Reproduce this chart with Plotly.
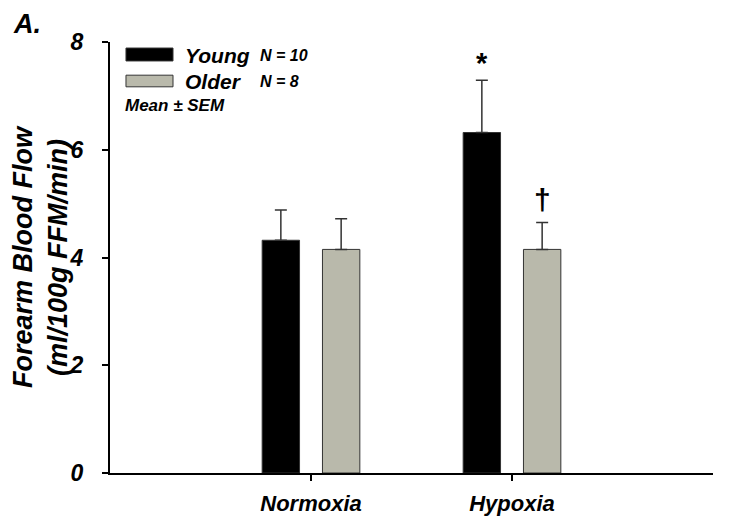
import plotly.graph_objects as go

categories = ["Normoxia", "Hypoxia"]
young_mean = [4.32, 6.32]
young_sem = [0.56, 0.97]
older_mean = [4.15, 4.15]
older_sem = [0.57, 0.50]
y_ticks = [0, 2, 4, 6, 8]
young_n = 10
older_n = 8

FONT = "Liberation Sans, Arial, sans-serif"
GRAY = "#b9b9ab"
OFFSET = 0.15  # half distance between grouped bar centres (category units)

fig = go.Figure()
fig.add_trace(go.Bar(
    name="Young", x=categories, y=young_mean,
    marker=dict(color="#000000", line=dict(color="#333333", width=1)),
    error_y=dict(type="data", array=young_sem, arrayminus=[0] * len(young_sem),
                 symmetric=False, color="#333333", thickness=1.5, width=6),
    showlegend=False,
))
fig.add_trace(go.Bar(
    name="Older", x=categories, y=older_mean,
    marker=dict(color=GRAY, line=dict(color="#333333", width=1)),
    error_y=dict(type="data", array=older_sem, arrayminus=[0] * len(older_sem),
                 symmetric=False, color="#333333", thickness=1.5, width=6),
    showlegend=False,
))

fig.update_layout(
    width=735, height=525,
    margin=dict(l=102, r=30, t=34, b=60, autoexpand=False),
    paper_bgcolor="white", plot_bgcolor="white",
    font=dict(family=FONT, color="black", weight="bold", style="italic"),
    barmode="group", bargap=0.4, bargroupgap=0.38,
    showlegend=False,
)
fig.update_xaxes(
    range=[-1, 2], showline=True, linecolor="black", linewidth=2,
    ticks="outside", ticklen=6, tickwidth=2, tickcolor="black",
    tickfont=dict(size=22, family=FONT, weight="bold", style="italic"),
    ticklabelstandoff=4, showgrid=False, zeroline=False, automargin=False,
)
fig.update_yaxes(
    range=[0, 8], tickvals=y_ticks, showline=True, linecolor="black", linewidth=2,
    ticks="outside", ticklen=6, tickwidth=2, tickcolor="black",
    tickfont=dict(size=23, family=FONT, weight="bold", style="italic"),
    ticklabelstandoff=14, showgrid=False, zeroline=False, automargin=False,
    title=dict(text="Forearm Blood Flow<br>(ml/100g FFM/min)",
               font=dict(size=27, family=FONT, weight="bold", style="italic"),
               standoff=8),
)

# significance markers
fig.add_annotation(x=1 - OFFSET, y=young_mean[1] + young_sem[1], text="*",
                   showarrow=False, yanchor="bottom", yshift=-1,
                   font=dict(size=29, family=FONT, weight="bold", style="normal"))
fig.add_annotation(x=1 + OFFSET, y=older_mean[1] + older_sem[1], text="†",
                   showarrow=False, yanchor="bottom", yshift=4,
                   font=dict(size=30, family=FONT, weight="bold", style="normal"))

# manual legend
fig.add_shape(type="rect", xref="paper", yref="paper", x0=0.0265, x1=0.1045,
              y0=0.956, y1=0.986, fillcolor="#000000", line=dict(color="#333333", width=1))
fig.add_shape(type="rect", xref="paper", yref="paper", x0=0.0265, x1=0.1045,
              y0=0.896, y1=0.923, fillcolor=GRAY, line=dict(color="#333333", width=1))
fig.add_annotation(xref="paper", yref="paper", x=0.121, y=0.969, text="Young",
                   showarrow=False, xanchor="left", yanchor="middle",
                   font=dict(size=21))
fig.add_annotation(xref="paper", yref="paper", x=0.121, y=0.908, text="Older",
                   showarrow=False, xanchor="left", yanchor="middle",
                   font=dict(size=21))
fig.add_annotation(xref="paper", yref="paper", x=0.245, y=0.969, text=f"N = {young_n}",
                   showarrow=False, xanchor="left", yanchor="middle",
                   font=dict(size=16))
fig.add_annotation(xref="paper", yref="paper", x=0.245, y=0.908, text=f"N = {older_n}",
                   showarrow=False, xanchor="left", yanchor="middle",
                   font=dict(size=16))
fig.add_annotation(xref="paper", yref="paper", x=0.022, y=0.853, text="Mean ± SEM",
                   showarrow=False, xanchor="left", yanchor="middle",
                   font=dict(size=17))
fig.add_annotation(xref="paper", yref="paper", x=-0.163, y=1.0789, text="A.",
                   showarrow=False, xanchor="left", yanchor="top",
                   font=dict(size=27), borderpad=0)

fig.write_html("out.html")
